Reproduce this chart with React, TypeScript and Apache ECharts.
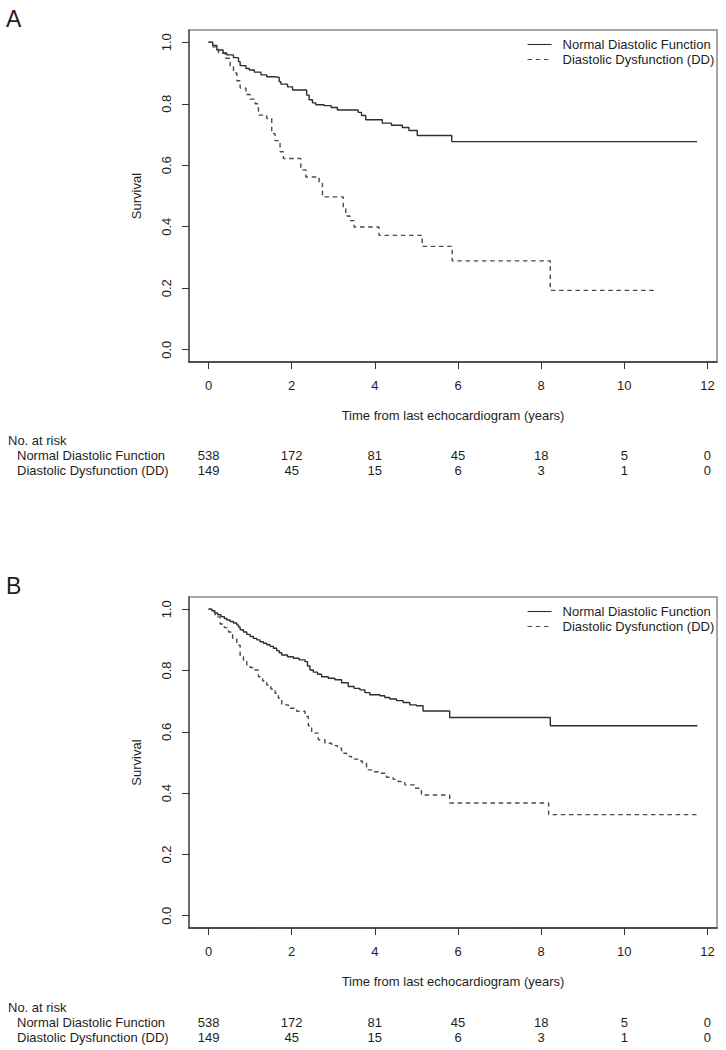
import React, { useEffect, useRef } from "react";
import * as echarts from "echarts";

const FONT = "'Liberation Sans', Arial, Helvetica, sans-serif";
const SERIES_NAMES = ["Normal Diastolic Function", "Diastolic Dysfunction (DD)"];
const PANEL_LABELS = ["A", "B"];
const X_TICKS = [0, 2, 4, 6, 8, 10, 12];
const Y_TICKS = [0, 0.2, 0.4, 0.6, 0.8, 1.0];
const X_TITLE = "Time from last echocardiogram (years)";
const Y_TITLE = "Survival";
const RISK_TITLE = "No. at risk";
const RISK_TIMES = [0, 2, 4, 6, 8, 10, 12];
const RISK_NORMAL = [538, 172, 81, 45, 18, 5, 0];
const RISK_DD = [149, 45, 15, 6, 3, 1, 0];

// Panel A – Kaplan-Meier steps (time in years, survival)
const A_NORMAL_T = [0, 0.1, 0.2, 0.35, 0.44, 0.6, 0.72, 0.76, 0.9, 0.98, 1.1, 1.26, 1.4, 1.58, 1.7, 1.74, 1.9, 2.02, 2.36, 2.42, 2.5, 2.58, 2.78, 2.95, 3.1, 3.6, 3.68, 3.78, 4.18, 4.4, 4.66, 4.82, 5.02, 5.85, 11.75];
const A_NORMAL_S = [1.0, 0.99, 0.975, 0.965, 0.959, 0.95, 0.937, 0.924, 0.915, 0.91, 0.903, 0.894, 0.888, 0.886, 0.872, 0.864, 0.855, 0.845, 0.828, 0.813, 0.803, 0.797, 0.794, 0.788, 0.78, 0.772, 0.762, 0.748, 0.737, 0.73, 0.723, 0.713, 0.697, 0.677, 0.677];
const A_DD_T = [0, 0.1, 0.24, 0.4, 0.52, 0.6, 0.68, 0.76, 0.9, 1.0, 1.12, 1.2, 1.4, 1.52, 1.6, 1.72, 1.8, 2.22, 2.34, 2.66, 2.74, 3.24, 3.3, 3.4, 3.5, 4.1, 5.14, 5.86, 8.22, 10.76];
const A_DD_S = [1.0, 0.985, 0.964, 0.948, 0.921, 0.9, 0.875, 0.851, 0.83, 0.815, 0.8, 0.763, 0.752, 0.703, 0.68, 0.644, 0.622, 0.585, 0.562, 0.541, 0.497, 0.46, 0.435, 0.42, 0.399, 0.372, 0.336, 0.289, 0.193, 0.193];

// Panel B – Kaplan-Meier steps
const B_NORMAL_T = [0, 0.08, 0.15, 0.22, 0.3, 0.38, 0.44, 0.52, 0.6, 0.68, 0.72, 0.76, 0.84, 0.92, 1.0, 1.08, 1.16, 1.24, 1.32, 1.4, 1.48, 1.56, 1.64, 1.7, 1.76, 1.9, 2.04, 2.18, 2.32, 2.38, 2.44, 2.52, 2.62, 2.72, 2.88, 3.04, 3.2, 3.36, 3.5, 3.64, 3.76, 3.88, 4.12, 4.24, 4.36, 4.52, 4.68, 4.84, 5.0, 5.16, 5.8, 8.22, 11.76];
const B_NORMAL_S = [1.0, 0.995, 0.988, 0.982, 0.976, 0.97, 0.965, 0.96, 0.955, 0.949, 0.942, 0.933, 0.926, 0.918, 0.911, 0.905, 0.9, 0.894, 0.889, 0.884, 0.879, 0.873, 0.865, 0.858, 0.851, 0.845, 0.84, 0.835, 0.829, 0.815, 0.802, 0.795, 0.788, 0.78, 0.775, 0.77, 0.76, 0.748, 0.742, 0.737, 0.728, 0.721, 0.718, 0.712, 0.707, 0.702, 0.696, 0.688, 0.685, 0.668, 0.647, 0.62, 0.62];
const B_DD_T = [0, 0.08, 0.16, 0.28, 0.38, 0.48, 0.58, 0.68, 0.76, 0.84, 0.92, 1.0, 1.08, 1.2, 1.3, 1.4, 1.5, 1.6, 1.68, 1.76, 1.92, 2.12, 2.32, 2.4, 2.48, 2.64, 2.8, 2.96, 3.1, 3.2, 3.32, 3.44, 3.6, 3.7, 3.8, 3.96, 4.08, 4.28, 4.44, 4.56, 4.72, 4.96, 5.12, 5.8, 8.18, 11.76];
const B_DD_S = [1.0, 0.99, 0.975, 0.952, 0.94, 0.926, 0.905, 0.883, 0.845, 0.83, 0.818, 0.81, 0.802, 0.78, 0.766, 0.753, 0.74, 0.726, 0.71, 0.688, 0.677, 0.667, 0.65, 0.62, 0.596, 0.574, 0.563, 0.555, 0.547, 0.53, 0.52, 0.511, 0.505, 0.498, 0.476, 0.47, 0.465, 0.452, 0.445, 0.438, 0.427, 0.416, 0.394, 0.368, 0.33, 0.33];

const zip = (t: number[], s: number[]) => t.map((v, i) => [v, s[i]]);

const TEXT = "#1e1e1e";
const SOLID = "#2e2e2e";
const DASH = "#4a4a4a";

export default function App() {
  const ref = useRef<HTMLDivElement>(null);
  useEffect(() => {
    if (!ref.current) return;
    const chart = echarts.init(ref.current, null, { renderer: "svg" });
    const panels = [
      { top: 30, height: 332, normal: zip(A_NORMAL_T, A_NORMAL_S), dd: zip(A_DD_T, A_DD_S), legendTop: 38 },
      { top: 597, height: 331, normal: zip(B_NORMAL_T, B_NORMAL_S), dd: zip(B_DD_T, B_DD_S), legendTop: 605 },
    ];
    const grid = panels.map((p) => ({
      left: 189,
      top: p.top,
      width: 528,
      height: p.height,
      show: true,
      borderColor: "#8a8a8a",
      borderWidth: 1.5,
      backgroundColor: "transparent",
    }));
    const xAxis = panels.map((_, i) => ({
      type: "value",
      gridIndex: i,
      min: -0.47,
      max: 12.23,
      axisLine: { show: true, onZero: false, lineStyle: { color: "#333", width: 1.5 } },
      axisTick: { show: true, customValues: X_TICKS, length: 7, lineStyle: { color: "#333", width: 1 } },
      axisLabel: { customValues: X_TICKS, margin: 17, fontSize: 13, color: TEXT, fontFamily: FONT },
      splitLine: { show: false },
      name: X_TITLE,
      nameLocation: "middle",
      nameGap: 47,
      nameTextStyle: { fontSize: 13, color: TEXT, fontFamily: FONT },
    }));
    const yAxis = panels.map((_, i) => ({
      type: "value",
      gridIndex: i,
      min: -0.04,
      max: 1.04,
      axisLine: { show: true, onZero: false, lineStyle: { color: "#555", width: 1.5 } },
      axisTick: { show: true, customValues: Y_TICKS, length: 7, lineStyle: { color: "#333", width: 1 } },
      axisLabel: {
        customValues: Y_TICKS,
        rotate: 90,
        margin: 16,
        fontSize: 13,
        color: TEXT,
        fontFamily: FONT,
        formatter: (v: number) => v.toFixed(1),
      },
      splitLine: { show: false },
      name: Y_TITLE,
      nameLocation: "middle",
      nameRotate: 90,
      nameGap: 46,
      nameTextStyle: { fontSize: 13, color: TEXT, fontFamily: FONT },
    }));
    const series: any[] = [];
    panels.forEach((p, i) => {
      series.push({
        name: SERIES_NAMES[0],
        type: "line",
        xAxisIndex: i,
        yAxisIndex: i,
        step: "end",
        symbol: "none",
        showSymbol: false,
        silent: true,
        lineStyle: { color: SOLID, width: 1.4, type: "solid" },
        itemStyle: { color: SOLID },
        data: p.normal,
      });
      series.push({
        name: SERIES_NAMES[1],
        type: "line",
        xAxisIndex: i,
        yAxisIndex: i,
        step: "end",
        symbol: "none",
        showSymbol: false,
        silent: true,
        lineStyle: { color: DASH, width: 1.4, type: [4.5, 3.7] },
        itemStyle: { color: DASH },
        data: p.dd,
      });
    });
    const legend = panels.map((p) => ({
      data: SERIES_NAMES,
      orient: "vertical",
      left: 527,
      top: p.legendTop,
      itemWidth: 24,
      itemHeight: 14,
      itemGap: 2,
      padding: 0,
      selectedMode: false,
      itemStyle: { opacity: 0, borderWidth: 0 },
      lineStyle: { width: 1.1 },
      textStyle: { fontSize: 13, color: TEXT, fontFamily: FONT, padding: [0, 0, 0, 6] },
    }));
    chart.setOption({
      animation: false,
      backgroundColor: "#fff",
      grid,
      xAxis,
      yAxis,
      series,
      legend,
    });

    const graphic: any[] = [];
    const txt = (text: string, x: number, y: number, align: string, size = 13) => ({
      type: "text",
      x,
      y,
      silent: true,
      style: { text, fill: TEXT, fontSize: size, fontFamily: FONT, textAlign: align, textVerticalAlign: "middle" },
    });
    panels.forEach((p, i) => {
      const base = p.top;
      graphic.push(txt(PANEL_LABELS[i], 6, base - 11, "left", 23));
      const rowTitle = base + 410;
      graphic.push(txt(RISK_TITLE, 8, rowTitle, "left"));
      graphic.push(txt(SERIES_NAMES[0], 17, rowTitle + 15, "left"));
      graphic.push(txt(SERIES_NAMES[1], 17, rowTitle + 30, "left"));
      RISK_TIMES.forEach((t, k) => {
        const px = chart.convertToPixel({ gridIndex: i } as any, [t, 0]) as number[];
        graphic.push(txt(String(RISK_NORMAL[k]), px[0], rowTitle + 15, "center"));
        graphic.push(txt(String(RISK_DD[k]), px[0], rowTitle + 30, "center"));
      });
    });
    chart.setOption({ graphic });
    return () => chart.dispose();
  }, []);
  return (
    <div
      ref={ref}
      style={{ position: "absolute", left: 0, top: 0, width: 726, height: 1050, background: "#fff" }}
    />
  );
}
